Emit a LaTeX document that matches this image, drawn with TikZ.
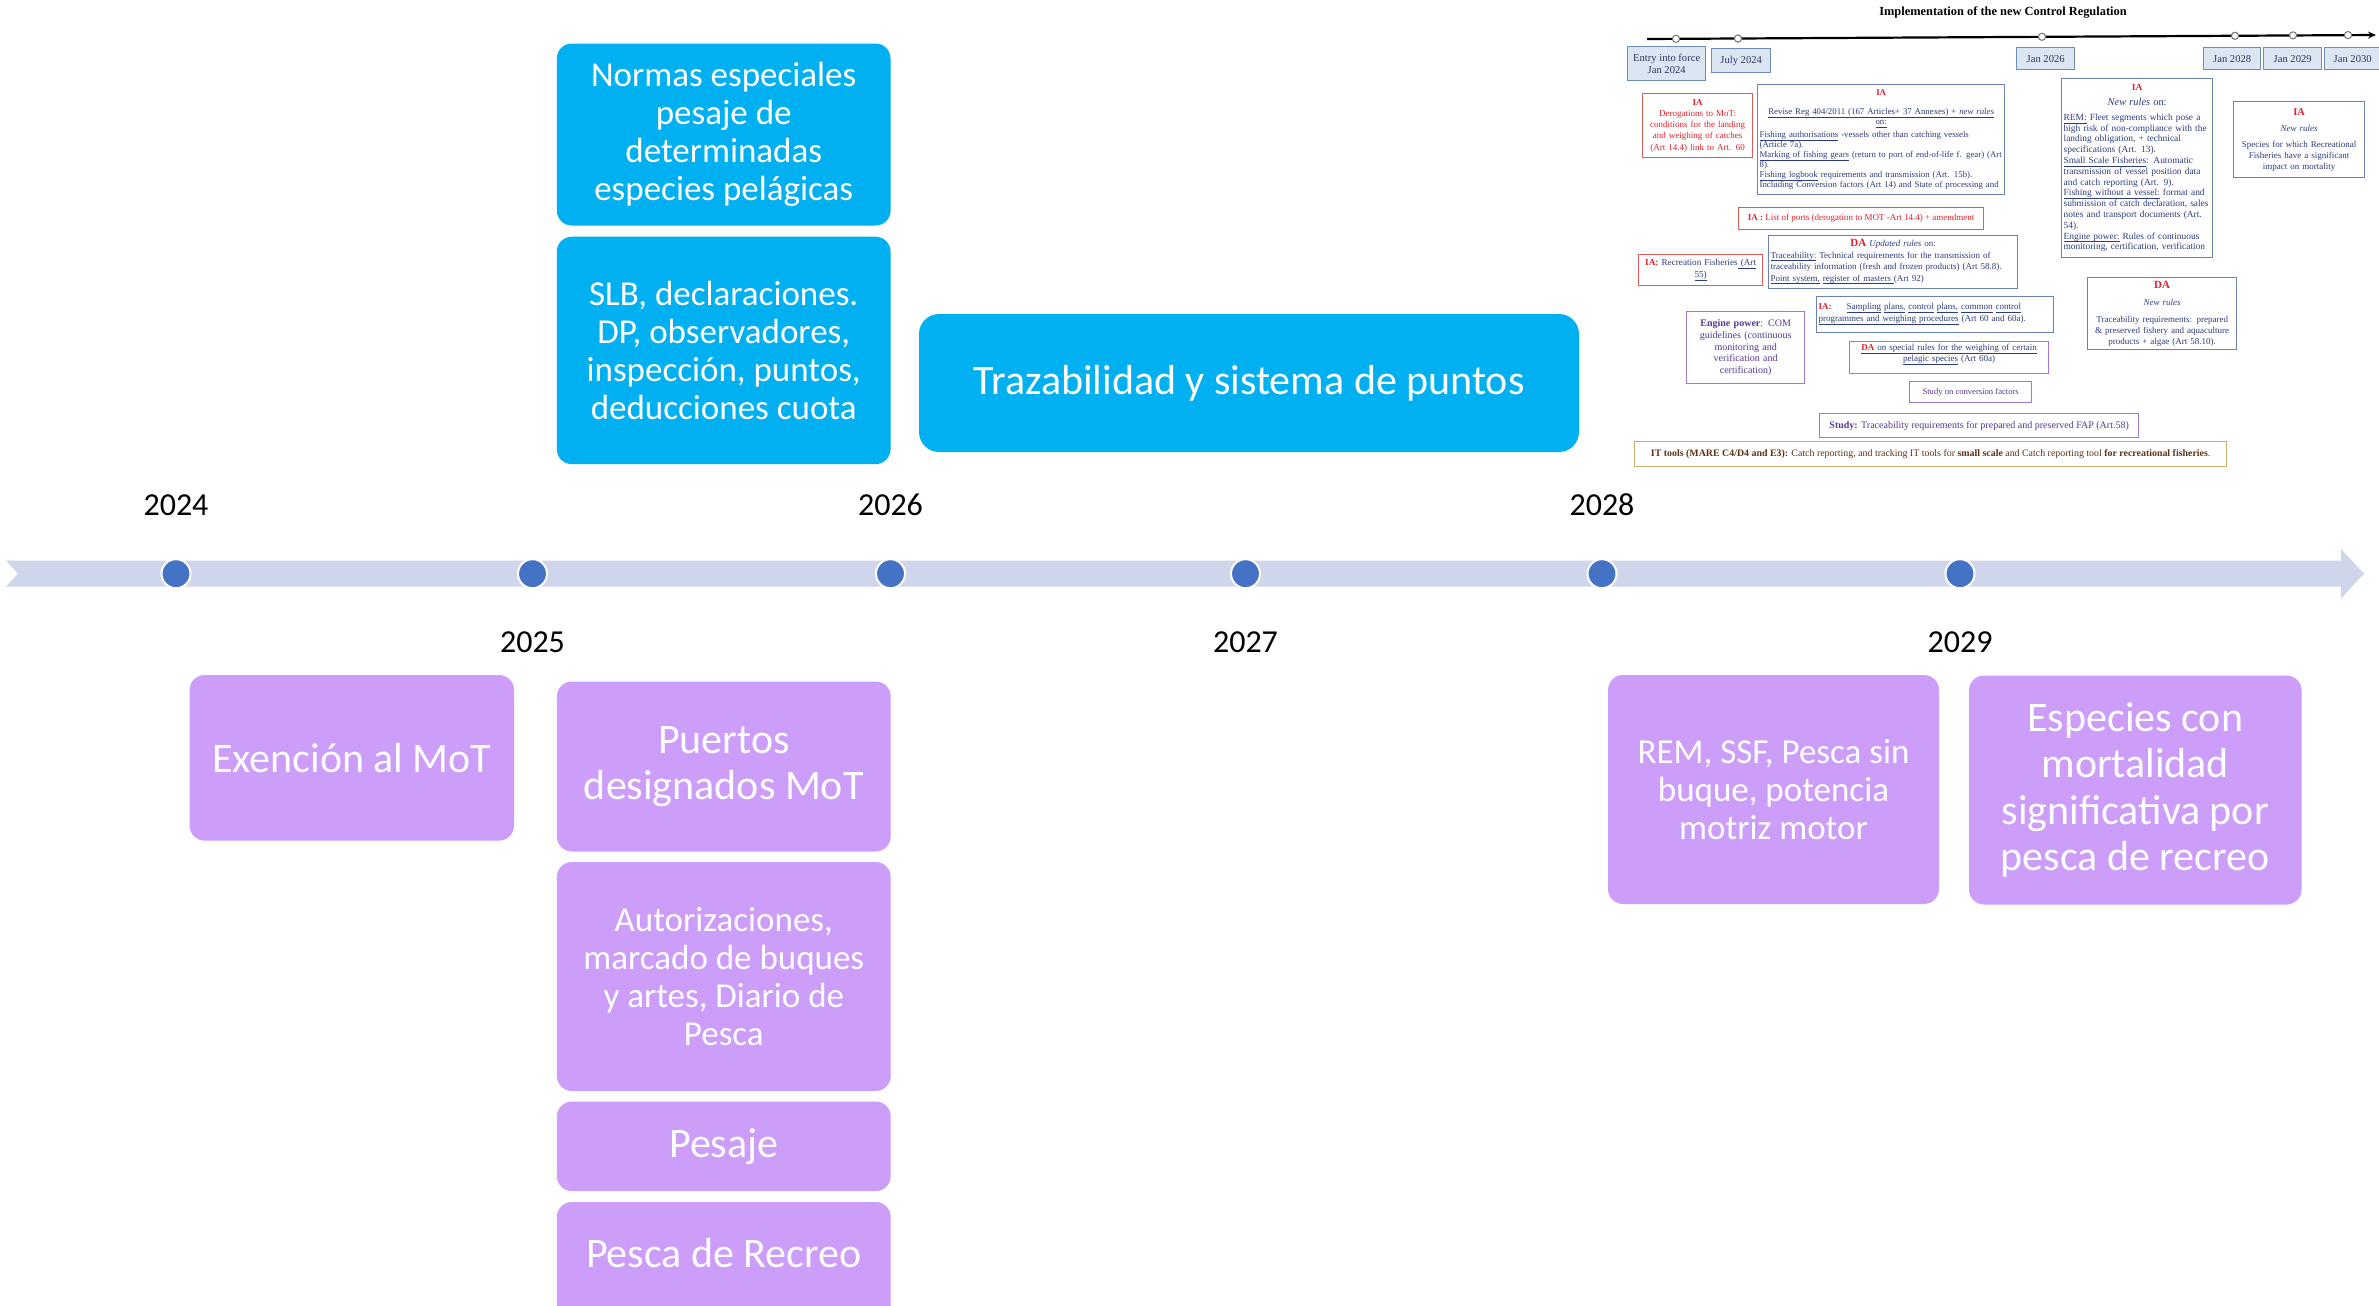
\documentclass[tikz,border=0pt]{standalone}
\usepackage{fontspec}
\setmainfont{Carlito}
\newfontfamily\ser{Liberation Serif}
\usetikzlibrary{arrows.meta}
\newcommand\uln[1]{\underline{\smash{#1}}}
\definecolor{cyanc}{RGB}{0,176,240}
\definecolor{purc}{RGB}{205,157,250}
\definecolor{bandc}{RGB}{207,213,234}
\definecolor{dotc}{RGB}{68,114,196}
\definecolor{iared}{RGB}{232,30,40}
\definecolor{redb}{RGB}{225,90,90}
\definecolor{insblue}{RGB}{45,60,125}
\definecolor{blueb}{RGB}{110,130,178}
\definecolor{purt}{RGB}{85,55,150}
\definecolor{purb}{RGB}{160,120,210}
\definecolor{goldb}{RGB}{200,172,110}
\definecolor{itt}{RGB}{95,50,20}
\definecolor{datef}{RGB}{220,230,242}
\definecolor{dateb}{RGB}{110,140,182}
\definecolor{datet}{RGB}{45,55,100}
\begin{document}
\begin{tikzpicture}[x=0.5pt,y=-0.5pt,
 cbox/.style={fill=cyanc, rounded corners=7.5pt, text=white, align=center, inner sep=0pt, font=\fontsize{17.5}{19}\selectfont},
 pbox/.style={fill=purc, rounded corners=7.5pt, text=white, align=center, inner sep=0pt, font=\fontsize{17.5}{19}\selectfont},
 bigtxt/.style={font=\fontsize{21}{23.2}\selectfont},
 year/.style={font=\fontsize{16}{18}\selectfont, text=black, inner sep=0pt},
 dot/.style={circle, fill=dotc, draw=white, line width=1pt, minimum size=14.5pt, inner sep=0pt},
 ibox/.style={draw, line width=0.65pt, anchor=north west, inner xsep=1pt, inner ysep=0pt, align=left, font=\ser\fontsize{4.5}{5.5}\selectfont, execute at begin node={\lineskiplimit=-6pt}},
 dbox/.style={ibox, fill=datef, draw=dateb, text=datet, align=center, font=\ser\fontsize{5.3}{6}\selectfont},
 tcirc/.style={circle, draw=black!55, fill=white, line width=0.5pt, minimum size=3.6pt, inner sep=0pt}
]
\useasboundingbox (0,0) rectangle (2379,1306);
\fill[white] (0,0) rectangle (2379,1306);

% main timeline
\fill[bandc] (6,560.7) -- (2341,560.7) -- (2341,549) -- (2364,573.7) -- (2341,598.4) -- (2341,586.7) -- (6,586.7) -- (18,573.7) -- cycle;
\node[dot] (y24) at (176,573.7) {};
\node[dot] (y25) at (532.5,573.7) {};
\node[dot] (y26) at (890.5,573.7) {};
\node[dot] (y27) at (1245.5,573.7) {};
\node[dot] (y28) at (1602,573.7) {};
\node[dot] (y29) at (1960,573.7) {};
\node[year] (l24) at (176,505) {2024};
\node[year] (l26) at (890.5,505) {2026};
\node[year] (l28) at (1602,505) {2028};
\node[year] (l25) at (532.5,642) {2025};
\node[year] (l27) at (1245.5,642) {2027};
\node[year] (l29) at (1960,642) {2029};

% cyan boxes
\node[cbox, minimum width=166.9pt, minimum height=91pt] (n1) at (723.7,134.5) {Normas especiales\\pesaje de\\determinadas\\especies pelágicas};
\node[cbox, minimum width=166.9pt, minimum height=113.7pt] (n2) at (723.7,350.4) {SLB, declaraciones.\\DP, observadores,\\inspección, puntos,\\deducciones cuota};
\node[cbox, bigtxt, rounded corners=10pt, minimum width=330pt, minimum height=69pt] (n3) at (1249,383) {Trazabilidad y sistema de puntos};

% purple boxes
\node[pbox, bigtxt, minimum width=162.2pt, minimum height=82.8pt] (p1) at (351.8,757.8) {Exención al MoT};
\node[pbox, bigtxt, minimum width=166.9pt, minimum height=85pt] (p2) at (723.8,766.5) {Puertos\\designados MoT};
\node[pbox, minimum width=166.9pt, minimum height=114.5pt] (p3) at (723.8,976.5) {Autorizaciones,\\marcado de buques\\y artes, Diario de\\Pesca};
\node[pbox, bigtxt, minimum width=166.9pt, minimum height=44.8pt] (p4) at (723.8,1146.3) {Pesaje};
\node[pbox, minimum width=166.9pt, minimum height=69.2pt, anchor=north] (p5) at (723.8,1201.6) {};
\node[bigtxt, text=white, inner sep=0pt] (p5t) at (723.8,1253) {Pesca de Recreo};
\node[pbox, minimum width=165.5pt, minimum height=114.5pt] (p6) at (1773.5,789.5) {REM, SSF, Pesca sin\\buque, potencia\\motriz motor};
\node[pbox, bigtxt, minimum width=166.3pt, minimum height=114.5pt] (p7) at (2135.3,790) {Especies con\\mortalidad\\significativa por\\pesca de recreo};

% inset: title and timeline
\node[font=\ser\bfseries\fontsize{6.2}{7}\selectfont, inner sep=0pt] (ttl) at (2003,13) {Implementation of the new Control Regulation};
\coordinate (ta) at (1647,39);
\coordinate (tb) at (2376,35);
\draw[line width=1.1pt, -{Stealth[length=4pt,width=3.5pt]}] (ta) -- (tb);
\node[tcirc] (tc1) at (1676,38.8) {};
\node[tcirc] (tc2) at (1738,38.5) {};
\node[tcirc] (tc3) at (2042,36.8) {};
\node[tcirc] (tc4) at (2235,35.8) {};
\node[tcirc] (tc5) at (2293,35.4) {};
\node[tcirc] (tc6) at (2348,35.1) {};

\node[dbox, minimum width=39pt, minimum height=17pt] (d1) at (1627,46) {Entry into force\\Jan 2024};
\node[dbox, minimum width=29.5pt, minimum height=12pt] (d2) at (1711,48) {July 2024};
\node[dbox, minimum width=29pt, minimum height=11pt] (d3) at (2016,47) {Jan 2026};
\node[dbox, minimum width=28.5pt, minimum height=11pt] (d4) at (2203,47) {Jan 2028};
\node[dbox, minimum width=29pt, minimum height=11pt] (d5) at (2263,47) {Jan 2029};
\node[dbox, minimum width=28pt, minimum height=11pt] (d6) at (2324,47) {Jan 2030};

% inset boxes
\node[ibox, draw=redb, text=iared, align=center, text width=53pt, minimum height=32pt, font=\ser\fontsize{4.5}{5.6}\selectfont] (ider) at (1642,93) {\textbf{IA}\\Derogations to MoT:\\conditions for the landing\\and weighing of catches\\(Art 14.4) link to Art. 60};

\node[ibox, draw=blueb, text=insblue, text width=121.5pt, minimum height=55pt, font=\ser\fontsize{4.4}{5}\selectfont] (iia1) at (1757,84) {%
\makebox[\linewidth]{\textcolor{iared}{\bfseries IA}}\\[4.2pt]
\makebox[\linewidth]{\uln{Revise Reg 404/2011 (167 Articles+ 37 Annexes) + \textit{new rules}}}\\
\makebox[\linewidth]{\uln{on:}}\\[1.5pt]
\makebox[\linewidth][s]{\uln{Fishing authorisations} -vessels other than catching vessels}\\
(Article 7a).\\
\makebox[\linewidth][s]{\uln{Marking of fishing gears} (return to port of end-of-life f. gear) (Art}\\
8).\\
\uln{Fishing logbook} requirements and transmission (Art. 15b).\\
\makebox[\linewidth][s]{Including Conversion factors (Art 14) and State of processing and}};

\node[ibox, draw=redb, text=iared, minimum width=122.5pt, minimum height=11pt, align=center] (iports) at (1738,207) {\textbf{IA :} List of ports (derogation to MOT -Art 14.4) + amendment};

\node[ibox, draw=redb, text=insblue, text width=60pt, minimum height=15.5pt, align=center, font=\ser\fontsize{4.6}{5.8}\selectfont] (irec) at (1638,254) {\textcolor{iared}{\bfseries IA:} Recreation Fisheries\uln{ (Art}\\\uln{55)}};

\node[ibox, draw=blueb, text=insblue, text width=122.5pt, minimum height=26.5pt, font=\ser\fontsize{4.5}{5.75}\selectfont] (idaupd) at (1768,235) {%
\makebox[\linewidth]{\textcolor{iared}{\bfseries\fontsize{5.5}{5.75}\selectfont DA} \textit{Updated rules} on:}\\
\makebox[\linewidth][s]{\uln{Traceability:} Technical requirements for the transmission of}\\
traceability information (fresh and frozen products) (Art 58.8).\\
\uln{Point system,} \uln{register of masters }(Art 92)};

\node[ibox, draw=blueb, text=insblue, text width=116.5pt, minimum height=18pt, font=\ser\fontsize{4.5}{6}\selectfont] (isamp) at (1816,296) {%
\makebox[\linewidth][s]{\textcolor{iared}{\bfseries IA:}\hspace{6pt} \uln{Sampling} \uln{plans,} \uln{control} \uln{plans,} \uln{common} \uln{control}}\\
\uln{programmes and weighing procedures} (Art 60 and 60a).};

\node[ibox, draw=purb, text=purt, text width=57pt, minimum height=36pt, align=center, font=\ser\fontsize{5}{5.9}\selectfont] (ieng) at (1686,311) {\textbf{Engine power}: COM\\guidelines (continuous\\monitoring and\\verification and\\certification)};

\node[ibox, draw=purb, text=insblue, text width=97.5pt, minimum height=16pt, align=center, font=\ser\fontsize{4.5}{5.5}\selectfont] (idasp) at (1849,341) {\uln{\textcolor{iared}{\bfseries DA} on special rules for the weighing of certain}\\\uln{pelagic species} (Art 60a)};

\node[ibox, draw=purb, text=purt, minimum width=61pt, minimum height=10.5pt, align=center, font=\ser\fontsize{4.3}{5}\selectfont] (iconv) at (1909,381) {Study on conversion factors};

\node[ibox, draw=purb, text=purt, minimum width=159.5pt, minimum height=12pt, align=center, font=\ser\fontsize{5}{6}\selectfont] (istudy) at (1819,413) {\textbf{Study:} Traceability requirements for prepared and preserved FAP (Art.58)};

\node[ibox, draw=goldb, text=itt, minimum width=296pt, minimum height=12.5pt, align=center, font=\ser\fontsize{4.95}{5.5}\selectfont] (iit) at (1634,441) {\textbf{IT tools (MARE C4/D4 and E3):} Catch reporting, and tracking IT tools for \textbf{small scale} and Catch reporting tool \textbf{for recreational fisheries}.};

\node[ibox, draw=blueb, text=insblue, text width=73.5pt, minimum height=89.5pt, font=\ser\fontsize{4.7}{5.4}\selectfont] (iia2) at (2061,78) {%
\makebox[\linewidth]{\textcolor{iared}{\bfseries IA}}\\[2.2pt]
\makebox[\linewidth]{\fontsize{5.2}{5.4}\selectfont\textit{New rules} on:}\\[1.8pt]
\uln{REM:} Fleet segments which pose a\\
high risk of non-compliance with the\\
landing obligation, + technical\\
specifications (Art. 13).\\
\uln{Small Scale Fisheries}: Automatic\\
transmission of vessel position data\\
and catch reporting (Art. 9).\\
\makebox[\linewidth][s]{\uln{Fishing without a vessel:} format and}\\
\makebox[\linewidth][s]{submission of catch declaration, sales}\\
\makebox[\linewidth][s]{notes and transport documents (Art.}\\
54).\\
\makebox[\linewidth][s]{\uln{Engine power:} Rules of continuous}\\
\makebox[\linewidth][s]{monitoring, certification, verification}};

\node[ibox, draw=blueb, text=insblue, text width=63.5pt, minimum height=38pt, align=center, font=\ser\fontsize{4.5}{5.4}\selectfont] (iia3) at (2233,101) {\textcolor{iared}{\bfseries\fontsize{5.2}{5.4}\selectfont IA}\\[3pt]\textit{New rules}\\[2.4pt]Species for which Recreational\\Fisheries have a significant\\impact on mortality};

\node[ibox, draw=blueb, text=insblue, text width=72.5pt, minimum height=36pt, align=center, font=\ser\fontsize{4.5}{5.5}\selectfont] (ida2) at (2087,277) {\textcolor{iared}{\bfseries\fontsize{5.5}{5.5}\selectfont DA}\\[3pt]\textit{New rules}\\[3pt]Traceability requirements: prepared\\\& preserved fishery and aquaculture\\products + algae (Art 58.10).};
\end{tikzpicture}
\end{document}
